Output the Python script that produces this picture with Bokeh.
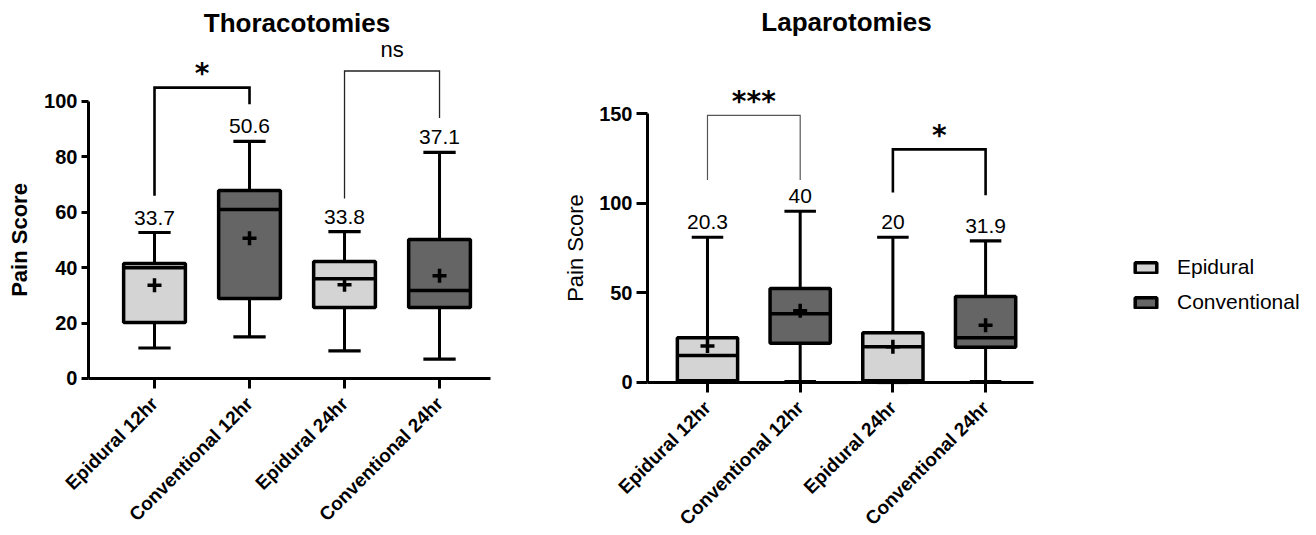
import math
from bokeh.plotting import figure
from bokeh.layouts import row
from bokeh.models import FixedTicker, Legend, LegendItem, Label, Range1d
from bokeh.core.properties import value
from bokeh.embed import file_html
from bokeh.resources import INLINE

# ---------------- data ----------------
categories = ["Epidural 12hr", "Conventional 12hr", "Epidural 24hr", "Conventional 24hr"]
groups = ["Epidural", "Conventional", "Epidural", "Conventional"]

# Thoracotomies (Pain Score)
thor_low = [11, 15, 10, 7]
thor_q1 = [20.2, 28.9, 25.6, 25.6]
thor_med = [40, 61, 36, 31.8]
thor_q3 = [41.5, 67.9, 42.2, 50.2]
thor_high = [52.7, 85.6, 53, 81.6]
thor_mean = [33.7, 50.6, 33.8, 37.1]

# Laparotomies (Pain Score)
lap_low = [0, 0.5, 0, 0.5]
lap_q1 = [1, 21.9, 1, 19.6]
lap_med = [15, 38.4, 20, 25]
lap_q3 = [25, 52.4, 27.8, 48]
lap_high = [81, 95.5, 81, 79]
lap_mean = [20.3, 40, 20, 31.9]

# significance brackets
thor_br_from = [1, 3]
thor_br_to = [2, 4]
thor_br_top = [105, 111]
thor_br_left = [66, 65]
thor_br_right = [99, 94]
thor_br_label = ["*", "ns"]

lap_br_from = [1, 3]
lap_br_to = [2, 4]
lap_br_top = [149, 130]
lap_br_left = [113, 106]
lap_br_right = [113, 104.5]
lap_br_label = ["***", "*"]

# ---------------- style ----------------
FILL = {"Epidural": "#D4D4D4", "Conventional": "#656565"}
FONT = "Liberation Sans"
BOX_W = 0.65
CAP_W = 0.34
H = 533


def br_style(label):
    if label == "ns":
        return dict(lw=1.3, color="#222222", font=FONT, size="22px", style="normal", pad=22)
    if label == "***":
        return dict(lw=1.2, color="#555555", font="DejaVu Sans", size="28px", style="bold", pad=14)
    return dict(lw=2.6, color="black", font="DejaVu Sans", size="28px", style="bold", pad=14)


def make_panel(title, low, q1, med, q3, high, mean, bf, bt, btop, bl, br, blab,
               width, xr, yr, yaxis_at, xbounds, ticks, ybold, ytick_out, title_y,
               ylab_standoff, legend=False):
    p = figure(width=width, height=H, output_backend="svg", toolbar_location=None,
               x_range=Range1d(*xr), y_range=Range1d(*yr),
               min_border_left=0, min_border_right=0, min_border_top=0,
               min_border_bottom=0)
    p.outline_line_color = None
    p.grid.visible = False
    p.background_fill_color = "white"
    ppu = H / (yr[1] - yr[0])  # pixels per data unit (frame fills the canvas)

    xs = [i + 1 for i in range(len(categories))]
    # whiskers
    p.segment(xs, q3, xs, high, line_color="black", line_width=3)
    p.segment(xs, q1, xs, low, line_color="black", line_width=3)
    p.segment([x - CAP_W / 2 for x in xs], high, [x + CAP_W / 2 for x in xs], high,
              line_color="black", line_width=3.2)
    p.segment([x - CAP_W / 2 for x in xs], low, [x + CAP_W / 2 for x in xs], low,
              line_color="black", line_width=3.2)
    # boxes, split by group for the legend
    rends = {}
    for g in ["Epidural", "Conventional"]:
        idx = [i for i, gg in enumerate(groups) if gg == g]
        r = p.vbar(x=[xs[i] for i in idx], width=BOX_W,
                   bottom=[q1[i] for i in idx], top=[q3[i] for i in idx],
                   fill_color=FILL[g], line_color="black", line_width=3.5)
        rends[g] = r
    # medians
    p.segment([x - BOX_W / 2 for x in xs], med, [x + BOX_W / 2 for x in xs], med,
              line_color="black", line_width=3.5)
    # means
    p.scatter(xs, mean, marker="cross", size=14, line_width=3.5, line_color="black")
    # mean labels above the upper whiskers
    p.text(xs, [h + 15 / ppu for h in high], text=[f"{m:g}" for m in mean],
           text_align="center", text_baseline="middle", text_font=value(FONT),
           text_font_size="21px", text_color="black")
    # brackets
    for a, b, t, l, r_, lab in zip(bf, bt, btop, bl, br, blab):
        st = br_style(lab)
        p.line([a, a, b, b], [l, t, t, r_], line_color=st["color"], line_width=st["lw"],
               line_join="miter")
        p.text([(a + b) / 2], [t + st["pad"] / ppu], text=[lab], text_align="center",
               text_baseline="middle",
               text_font=value(st["font"]), text_font_size=st["size"],
               text_font_style=st["style"], text_color="black")
    # title
    p.add_layout(Label(x=2.5, y=title_y, text=title, text_align="center",
                       text_baseline="middle", text_font=FONT, text_font_size="26px",
                       text_font_style="bold", text_color="black"))

    # x axis fixed at y = 0 inside the frame
    xa = p.xaxis[0]
    xa.fixed_location = 0
    xa.bounds = xbounds
    xa.ticker = FixedTicker(ticks=xs)
    xa.major_label_overrides = {x: c for x, c in zip(xs, categories)}
    xa.major_label_orientation = math.pi / 4
    xa.major_label_text_font = FONT
    xa.major_label_text_font_size = "19px"
    xa.major_label_text_font_style = "bold"
    xa.major_label_text_color = "black"
    xa.major_label_standoff = 12
    xa.axis_line_width = 3
    xa.axis_line_color = "black"
    xa.major_tick_line_width = 3
    xa.major_tick_line_color = "black"
    xa.major_tick_out = 10
    xa.major_tick_in = 0
    xa.minor_tick_line_color = None

    # y axis fixed at the left end of the category axis
    ya = p.yaxis[0]
    ya.fixed_location = yaxis_at
    ya.ticker = FixedTicker(ticks=ticks)
    ya.bounds = (ticks[0], ticks[-1])
    ya.axis_label = "Pain Score"
    ya.axis_label_text_font = FONT
    ya.axis_label_text_font_size = "22px"
    ya.axis_label_text_font_style = "bold" if ybold else "normal"
    ya.axis_label_text_color = "black"
    ya.axis_label_standoff = ylab_standoff
    ya.major_label_text_font = FONT
    ya.major_label_text_font_size = "20px"
    ya.major_label_text_font_style = "bold"
    ya.major_label_text_color = "black"
    ya.axis_line_width = 3
    ya.axis_line_color = "black"
    ya.major_tick_line_width = 3
    ya.major_tick_line_color = "black"
    ya.major_tick_out = ytick_out
    ya.major_tick_in = 0
    ya.minor_tick_line_color = None
    ya.major_label_standoff = 4

    if legend:
        lg = Legend(items=[LegendItem(label="Epidural", renderers=[rends["Epidural"]]),
                           LegendItem(label="Conventional", renderers=[rends["Conventional"]])],
                    location=(584, 219), padding=0, margin=0,
                    border_line_alpha=0, background_fill_alpha=0,
                    label_text_font=FONT, label_text_font_size="21px",
                    label_text_color="black",
                    glyph_width=27, glyph_height=13, label_standoff=18,
                    label_height=24, spacing=11)
        p.add_layout(lg)
    return p


left = make_panel("Thoracotomies", thor_low, thor_q1, thor_med, thor_q3, thor_high, thor_mean,
                  thor_br_from, thor_br_to, thor_br_top, thor_br_left, thor_br_right, thor_br_label,
                  width=548, xr=(-0.621, 5.147), yr=(-55.96, 136.46),
                  yaxis_at=0.305, xbounds=(0.305, 4.537),
                  ticks=[0, 20, 40, 60, 80, 100], ybold=True, ytick_out=7,
                  title_y=128.5, ylab_standoff=9)

right = make_panel("Laparotomies", lap_low, lap_q1, lap_med, lap_q3, lap_high, lap_mean,
                   lap_br_from, lap_br_to, lap_br_top, lap_br_left, lap_br_right, lap_br_label,
                   width=766, xr=(-0.715, 7.548), yr=(-84.22, 213.05),
                   yaxis_at=0.353, xbounds=(0.353, 4.517),
                   ticks=[0, 50, 100, 150], ybold=False, ytick_out=11,
                   title_y=200.8, ylab_standoff=8, legend=True)

layout = row(left, right)
open("out.html", "w").write(file_html(layout, INLINE))
